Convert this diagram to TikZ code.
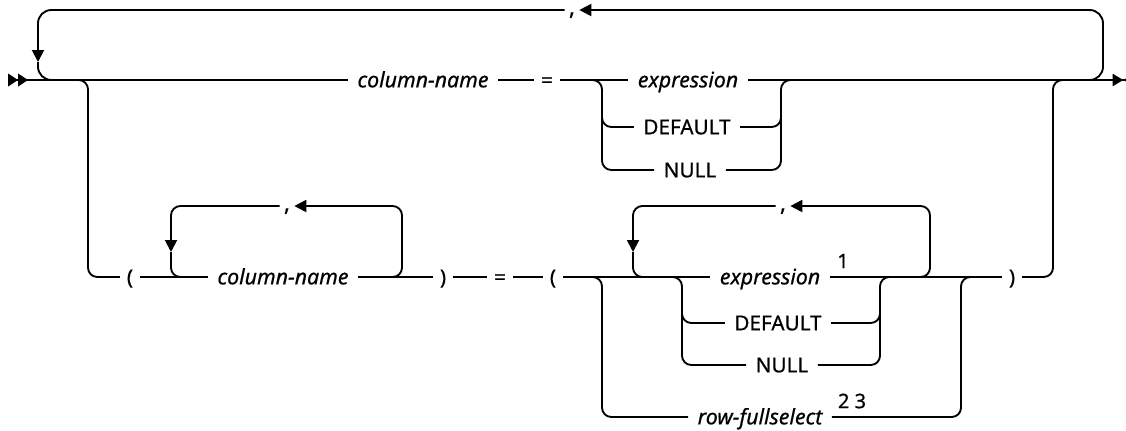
\documentclass[tikz,border=0pt]{standalone}
\usepackage{fontspec}
\setmainfont{Noto Sans}[FakeBold=0.6]
\usetikzlibrary{arrows.meta}

\tikzset{
  track/.style={line width=1.4pt, rounded corners=7pt},
  ring/.style={track, rounded corners=10pt},
  kw/.style={font=\fontsize{15.5}{18}\selectfont, inner xsep=7pt, inner ysep=0pt, text height=11pt, text depth=0pt},
  var/.style={kw, font=\fontsize{16}{18}\selectfont\itshape},
  sym/.style={kw, inner xsep=5pt},
  sepc/.style={kw, font=\fontsize{17}{20}\selectfont, inner xsep=3pt, text height=7.5pt},
  note/.style={font=\fontsize{15}{17}\selectfont, inner sep=0pt},
  backarr/.style={-{Triangle[length=9pt,width=9pt]}},
}

\begin{document}
\begin{tikzpicture}[x=0.75pt, y=-0.75pt]
\useasboundingbox (0,0) rectangle (1126,430);

% --- Top row ---
\node[var] (cn1) at (423,80) {column-name};
\node[sym] (eq1) at (547,80) {=};
\node[var] (ex1) at (688,80) {expression};
\node[kw]  (df1) at (687,127) {DEFAULT};
\node[kw]  (nl1) at (690,170) {NULL};
\node[sepc] (cm1) at (572,10) {,};

% --- Bottom row ---
\node[sym] (lp1) at (130,277) {(};
\node[var] (cn2) at (283,277) {column-name};
\node[sepc] (cm2) at (287,206) {,};
\node[sym] (rp1) at (443,277) {)};
\node[sym] (eq2) at (500,277) {=};
\node[sym] (lp2) at (553,277) {(};
\node[var] (ex2) at (770,277) {expression};
\node[note] (sup1) at (843,261) {1};
\node[sepc] (cm3) at (783,206) {,};
\node[kw]  (df2) at (778,323) {DEFAULT};
\node[kw]  (nl2) at (782,365) {NULL};
\node[var] (rf) at (760,417) {row-fullselect};
\node[note] (sup2) at (852,401) {2 3};
\node[sym] (rp2) at (1012,277) {)};

% junctions
\coordinate (st) at (8,80);
\coordinate (en) at (1134,80);
\coordinate (arL) at (38,62);
\coordinate (joL) at (52,80);
\coordinate (spR) at (1090,80);
\coordinate (topR) at (1103,10);
\coordinate (brA) at (76,80);
\coordinate (rlA) at (88,277);
\coordinate (rlB) at (1053,80);
\coordinate (joB) at (1066,80);
\coordinate (brE) at (590,80);
\coordinate (rlE) at (602,170);
\coordinate (upE) at (602,112);
\coordinate (rlF) at (781,80);
\coordinate (joF) at (793,80);
\coordinate (upF) at (781,112);
\coordinate (arI) at (171,252);
\coordinate (joI) at (185,277);
\coordinate (spJ) at (390,277);
\coordinate (topJ) at (402,206);
\coordinate (arK) at (633,252);
\coordinate (joK) at (647,277);
\coordinate (spL) at (918,277);
\coordinate (topL) at (930,206);
\coordinate (brG) at (670,277);
\coordinate (rlG) at (682,365);
\coordinate (upG) at (682,310);
\coordinate (rlH) at (880,277);
\coordinate (joH) at (892,277);
\coordinate (upH) at (880,310);
\coordinate (brC) at (590,277);
\coordinate (rlC) at (602,417);
\coordinate (rlD) at (961,277);
\coordinate (joD) at (975,277);

% --- Main line ---
\draw[track, {Triangle[reversed,length=7.5pt,width=9.5pt,sep=0pt]Triangle[reversed,length=7.5pt,width=9.5pt]}-] (st) -- (cn1);
\draw[track] (cn1) -- (eq1);
\draw[track] (eq1) -- (ex1);
\draw[track, -{Triangle[length=8pt,width=9pt,sep=0pt]Triangle[reversed,length=8pt,width=9pt]}] (ex1) -- (en);

% repeat loop
\draw[ring, backarr] (spR) -| (topR) -- (cm1.east);
\draw[ring, backarr] (cm1.west) -| (arL);
\draw[ring] (arL) |- (joL);

% expression / DEFAULT / NULL
\draw[track] (brE) -| (rlE) -- (nl1.west);
\draw[track] (df1.west) -| (upE);
\draw[track] (nl1.east) -| (rlF) -- (joF);
\draw[track] (df1.east) -| (upF);

% --- Lower branch ---
\draw[track] (brA) -| (rlA) -- (lp1.west);
\draw[track] (lp1) -- (cn2);
\draw[track] (cn2) -- (rp1);
\draw[track] (rp1) -- (eq2);
\draw[track] (eq2) -- (lp2);
\draw[track] (lp2) -- (ex2);
\draw[track] (ex2) -- (rp2);
\draw[track] (rp2.east) -| (rlB) -- (joB);

% column-name loop
\draw[track, backarr] (spJ) -| (topJ) -- (cm2.east);
\draw[track, backarr] (cm2.west) -| (arI);
\draw[track] (arI) |- (joI);

% expression loop
\draw[track, backarr] (spL) -| (topL) -- (cm3.east);
\draw[track, backarr] (cm3.west) -| (arK);
\draw[track] (arK) |- (joK);

% DEFAULT / NULL
\draw[track] (brG) -| (rlG) -- (nl2.west);
\draw[track] (df2.west) -| (upG);
\draw[track] (nl2.east) -| (rlH) -- (joH);
\draw[track] (df2.east) -| (upH);

% row-fullselect
\draw[track] (brC) -| (rlC) -- (rf.west);
\draw[track] (rf.east) -| (rlD) -- (joD);

\end{tikzpicture}
\end{document}
